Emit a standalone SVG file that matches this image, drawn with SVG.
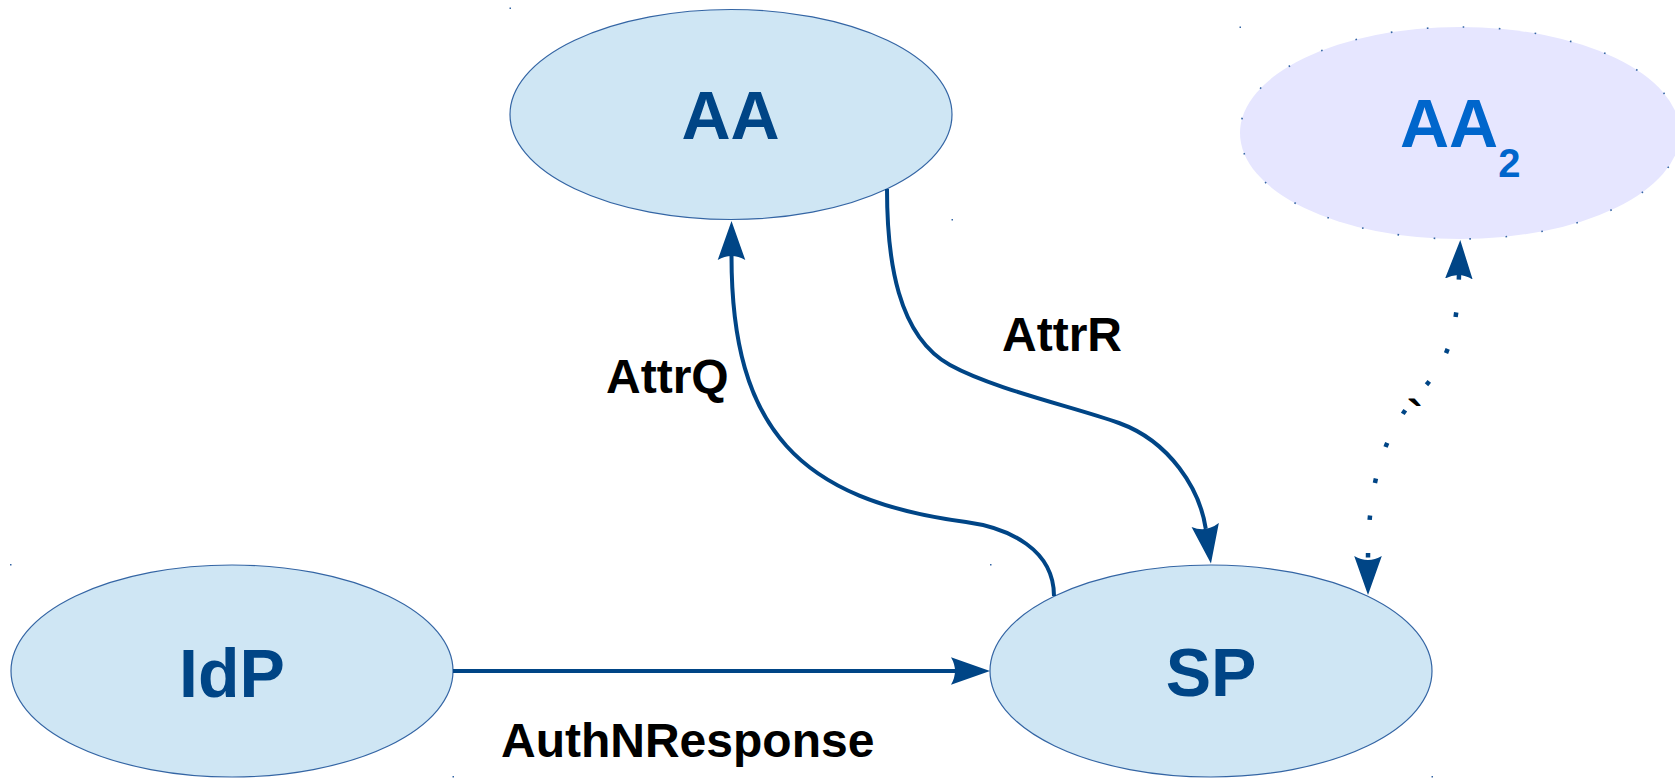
<svg xmlns="http://www.w3.org/2000/svg" width="1675" height="779" viewBox="0 0 1675 779">
  <style>
    .node { fill: #cfe6f4; stroke: #3465a4; stroke-width: 1.2; }
    .node2 { fill: #e6e6ff; stroke: #3465a4; stroke-width: 1.6; stroke-dasharray: 1.6 34.5; }
    .nlabel { font-family: "Liberation Sans", Arial, sans-serif; font-weight: bold; font-size: 68px; fill: #004586; text-anchor: middle; }
    .nlabel2 { font-family: "Liberation Sans", Arial, sans-serif; font-weight: bold; font-size: 68px; fill: #0066cc; }
    .elabel { font-family: "Liberation Sans", Arial, sans-serif; font-weight: bold; font-size: 48px; fill: #000000; }
    .conn { fill: none; stroke: #004586; stroke-width: 4; }
    .dotted { fill: none; stroke: #004586; stroke-width: 4.5; stroke-dasharray: 4.5 33; }
    .corner { fill: #3465a4; }
  </style>
  <defs>
    <marker id="arrow" markerUnits="userSpaceOnUse" markerWidth="40" markerHeight="30" viewBox="0 -15 40 30" refX="4" refY="0" orient="auto-start-reverse">
      <path d="M39,0 L0,-13.8 Q8,0 0,13.8 Z" fill="#004586"/>
    </marker>
  </defs>

  <g id="corners">
    <rect class="corner" x="509.5" y="7.5" width="1.5" height="1.5"/>
    <rect class="corner" x="951.5" y="219" width="1.5" height="1.5"/>
    <rect class="corner" x="1239.5" y="26.5" width="1.5" height="1.5"/>
    <rect class="corner" x="10" y="564" width="1.5" height="1.5"/>
    <rect class="corner" x="452.5" y="776" width="1.5" height="1.5"/>
    <rect class="corner" x="990" y="564" width="1.5" height="1.5"/>
    <rect class="corner" x="1431.5" y="776" width="1.5" height="1.5"/>
  </g>

  <g id="node-AA">
    <ellipse class="node" cx="731" cy="114.5" rx="221" ry="105"/>
    <text class="nlabel" x="730.5" y="139">AA</text>
  </g>

  <g id="node-AA2">
    <ellipse class="node2" cx="1460" cy="133" rx="220" ry="106"/>
    <text class="nlabel2" x="1400" y="147">AA<tspan dy="30" font-size="40">2</tspan></text>
  </g>

  <g id="node-IdP">
    <ellipse class="node" cx="232" cy="671" rx="221" ry="106"/>
    <text class="nlabel" x="232" y="696.5">IdP</text>
  </g>

  <g id="node-SP">
    <ellipse class="node" cx="1211" cy="671" rx="221" ry="106"/>
    <text class="nlabel" x="1211" y="696">SP</text>
  </g>

  <g id="connectors">
    <path id="authn" class="conn" d="M453,671 L955,671" marker-end="url(#arrow)"/>
    <path id="attrq" class="conn" marker-end="url(#arrow)" d="M1054,596 C1054,550 1010,528 966,522 C800,500 731.5,430 731.5,256"/>
    <path id="attrr" class="conn" marker-end="url(#arrow)" d="M887,189 C887,260 897.5,336 950,365 C993.8,389.2 1076.7,407.7 1119,423 C1170,441.5 1199.9,489.3 1205.8,528.9"/>
    <path id="aa2-sp" class="dotted" marker-start="url(#arrow)" marker-end="url(#arrow)" d="M1459,275 C1457,330 1450,360 1420,392 C1385,430 1368,480 1368,560"/>
    <text class="elabel" x="1407" y="434">`</text>
    <text class="elabel" x="606" y="393">AttrQ</text>
    <text class="elabel" x="1002" y="350.5">AttrR</text>
    <text class="elabel" x="501" y="756.5">AuthNResponse</text>
  </g>
</svg>
